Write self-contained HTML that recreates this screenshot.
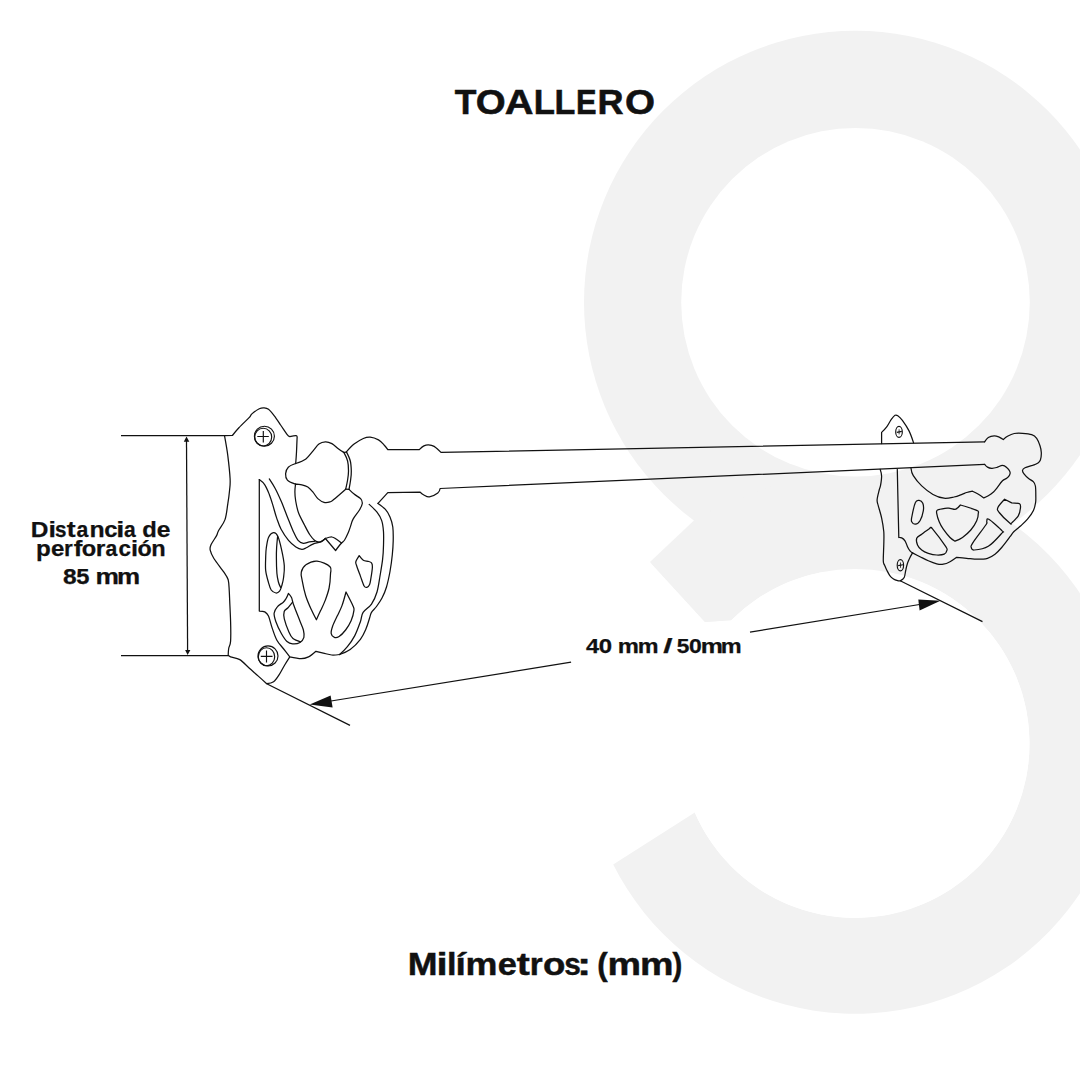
<!DOCTYPE html>
<html><head><meta charset="utf-8"><style>
html,body{margin:0;padding:0;background:#fff;}
body{width:1080px;height:1080px;position:relative;overflow:hidden;font-family:"Liberation Sans",sans-serif;}
svg{position:absolute;left:0;top:0;}
.t{position:absolute;white-space:nowrap;font-weight:bold;color:#111;line-height:1;}
</style></head><body>
<svg width="1080" height="1080" viewBox="0 0 1080 1080">

<g fill="#f2f2f2">
  <circle cx="855.5" cy="302.3" r="271.5"/>
  <path d="M652.5,564.2 A270.4,270.4 0 1 1 613.2,864.4 L694.8,812.6 A174.5,174.5 0 1 0 731.3,620.3 L705,622 L650,562 Z"/>
  <polygon points="694.5,520 650,562 705,622 731,620 740,560 730,500"/>
</g>
<g fill="#ffffff">
  <circle cx="855.5" cy="302.3" r="174.3"/>
  <circle cx="855.0" cy="743.4" r="174.5"/>
</g>

<g fill="none" stroke="#111" stroke-width="1.25" stroke-linejoin="round" stroke-linecap="round">
<path d="M224.5,435.6 L232.4,435.5 C232.4,435.5 236.1,430.8 238.9,427.8 C241.7,424.8 246.9,419.9 249.1,417.6 C251.3,415.3 250.2,415.4 251.9,413.9 C253.6,412.4 257.3,409.8 259.3,408.8 C261.3,407.8 262.4,407.8 263.9,407.9 C265.4,408.0 266.8,408.0 268.5,409.3 C270.2,410.6 272.1,413.1 274.1,415.7 C276.1,418.3 278.5,421.9 280.6,425.0 C282.8,428.1 285.5,432.4 287.0,434.3 C288.5,436.2 289.8,436.6 289.8,436.6 C289.8,436.6 295.0,435.4 296.2,435.6 C297.4,435.8 297.1,437.8 297.1,437.8 C297.1,437.8 296.7,447.7 296.5,452.0 C296.3,456.3 295.7,463.5 295.7,463.5"/>
<path d="M224.5,435.6 C224.5,435.6 226.9,448.4 227.8,455.6 C228.7,462.8 229.8,473.0 230.1,478.7 C230.4,484.4 230.0,485.8 229.6,490.0 C229.2,494.2 228.6,499.0 227.8,503.9 C227.0,508.8 226.6,515.1 225.0,519.6 C223.4,524.1 219.9,528.1 218.5,530.7 C217.1,533.3 217.9,533.1 216.7,535.4 C215.5,537.7 212.2,542.1 211.1,544.6 C210.0,547.1 209.7,547.9 210.2,550.2 C210.7,552.5 211.6,554.8 213.9,558.5 C216.2,562.2 221.7,568.9 224.1,572.4 C226.5,575.9 227.3,576.9 228.2,579.8 C229.0,582.7 229.0,586.9 229.2,590.0 C229.4,593.1 229.4,593.2 229.6,598.5 C229.8,603.8 230.4,614.6 230.6,621.7 C230.8,628.8 230.9,636.6 230.6,641.1 C230.3,645.6 229.1,646.2 228.7,648.5 C228.3,650.8 228.2,655.0 228.2,655.0 C228.2,655.0 228.7,656.1 230.6,656.9 C232.5,657.7 236.7,657.8 239.8,659.6 C242.9,661.5 246.0,665.2 249.1,668.0 C252.2,670.8 255.4,673.5 258.3,676.1 C261.2,678.7 266.7,683.7 266.7,683.7 C266.7,683.7 271.5,683.2 273.6,681.7 C275.7,680.2 277.4,677.5 279.2,674.7 C281.0,671.9 282.9,668.0 284.7,665.0 C286.5,662.0 289.8,656.9 289.8,656.9"/>
<path d="M259.3,479.6 L259.3,611.0 C259.3,611.0 263.3,611.0 264.8,611.9 C266.3,612.8 267.3,613.4 268.5,616.1 C269.7,618.8 270.8,624.1 272.2,628.1 C273.6,632.1 275.0,636.8 276.9,640.2 C278.8,643.6 281.1,645.7 283.3,648.5 C285.5,651.3 289.8,656.9 289.8,656.9 C289.8,656.9 298.0,658.7 301.1,658.7 C304.2,658.7 306.0,658.1 308.5,656.9 C311.0,655.7 315.9,651.3 315.9,651.3 C315.9,651.3 320.7,652.5 323.3,653.1 C325.9,653.7 329.0,654.8 331.7,655.0 C334.4,655.2 339.6,654.5 339.6,654.5"/>
<path d="M259.3,479.6 C259.3,479.6 263.1,482.3 264.8,484.8 C266.5,487.3 267.9,490.9 269.3,494.4 C270.7,497.9 271.8,501.7 273.0,505.6 C274.2,509.6 275.3,514.2 276.7,518.1 C278.1,522.0 279.1,525.6 281.1,529.3 C283.1,533.0 286.0,537.4 288.5,540.4 C291.0,543.4 293.7,545.5 295.9,547.0 C298.1,548.5 300.2,549.2 301.9,549.3 C303.6,549.4 304.4,548.7 306.3,547.8 C308.2,546.9 310.6,545.1 313.0,544.1 C315.4,543.1 318.3,542.8 320.4,541.9 C322.5,541.0 325.4,538.5 325.4,538.5"/>
<path d="M269.3,478.9 C269.3,478.9 273.2,484.8 275.2,488.5 C277.2,492.2 279.1,496.5 281.1,501.1 C283.1,505.7 285.0,511.0 287.0,515.9 C289.0,520.8 291.1,526.6 293.0,530.7 C294.9,534.8 296.4,538.3 298.1,540.4 C299.8,542.5 301.4,543.0 303.3,543.3 C305.2,543.5 307.4,542.2 309.3,541.9 C311.2,541.6 314.5,541.3 314.5,541.3"/>
<path d="M295.5,484.0 C295.5,484.0 294.9,489.2 294.9,492.0 C294.9,494.8 295.1,497.5 295.7,501.0 C296.3,504.5 297.1,509.0 298.6,513.0 C300.1,517.0 302.6,521.3 304.5,525.0 C306.4,528.7 308.3,532.5 310.0,535.0 C311.7,537.5 313.2,539.1 314.5,540.3 C315.8,541.4 316.8,541.7 318.0,541.9 C319.2,542.1 320.3,542.2 321.5,541.6 C322.7,541.0 325.4,538.5 325.4,538.5"/>
<path d="M325.4,538.5 C325.4,538.5 330.0,536.9 331.9,537.0 C333.8,537.1 334.9,538.3 336.5,539.3 C338.1,540.3 341.5,543.0 341.5,543.0"/>
<path d="M325.4,538.5 L335.6,550.5 C335.6,550.5 339.6,545.2 341.1,543.5 C342.6,541.8 343.4,541.8 344.6,540.0 C345.8,538.2 347.3,534.9 348.3,532.6 C349.3,530.3 349.8,528.4 350.6,526.1 C351.4,523.9 351.6,521.8 353.1,519.1 C354.6,516.4 358.1,512.4 359.6,509.8 C361.1,507.2 362.1,505.4 362.3,503.5 C362.5,501.6 362.0,500.3 360.6,498.7 C359.2,497.1 356.0,495.7 354.1,494.1 C352.2,492.6 349.0,489.4 349.0,489.4"/>
<path d="M295.7,463.5 C295.7,463.5 303.0,461.0 305.9,458.9 C308.8,456.8 311.1,453.1 313.3,450.6 C315.5,448.1 316.9,445.6 318.9,444.1 C320.9,442.6 323.2,441.9 325.4,441.8 C327.6,441.7 329.8,442.5 331.9,443.6 C334.0,444.8 336.3,447.2 338.3,448.7 C340.3,450.2 343.9,452.4 343.9,452.4"/>
<path d="M295.7,463.5 C295.7,463.5 290.0,465.5 288.3,467.2 C286.6,468.9 285.8,471.5 285.6,473.7 C285.5,475.9 285.9,478.5 287.4,480.2 C288.9,481.9 292.4,483.1 294.8,483.9 C297.2,484.7 299.7,484.3 301.9,484.8 C304.1,485.3 305.9,485.8 307.8,487.0 C309.7,488.2 311.3,490.2 313.0,492.2 C314.7,494.2 316.2,497.2 318.1,498.9 C320.0,500.6 322.1,501.9 324.1,502.4 C326.1,502.9 328.4,502.4 330.0,501.9 C331.6,501.4 331.1,501.7 333.7,499.6 C336.3,497.5 345.7,489.2 345.7,489.2"/>
<path d="M343.9,452.4 C343.9,452.4 346.8,457.9 347.6,461.0 C348.4,464.1 348.5,467.7 348.5,470.9 C348.5,474.1 348.1,476.9 347.6,480.0 C347.1,483.1 345.7,489.2 345.7,489.2"/>
<path d="M346.4,451.9 C346.4,451.9 349.5,457.8 350.3,461.0 C351.1,464.2 351.2,467.7 351.3,470.9 C351.4,474.1 351.0,476.9 350.6,480.0 C350.2,483.1 349.0,489.4 349.0,489.4"/>
<path d="M343.4,452.5 L346.6,452.2"/>
<path d="M345.6,489.2 L349.0,489.4"/>
<path d="M346.4,451.9 C346.4,451.9 351.3,446.3 354.1,444.1 C356.9,441.9 360.6,439.7 363.3,438.5 C366.0,437.3 367.7,436.9 370.2,437.1 C372.7,437.3 376.2,438.6 378.5,439.9 C380.8,441.2 382.6,443.4 384.1,445.0 C385.7,446.6 387.8,449.6 387.8,449.6 L419.3,449.6 C419.3,449.6 422.4,446.7 423.9,445.9 C425.4,445.1 426.8,444.7 428.5,444.8 C430.2,444.9 432.0,445.1 434.1,446.4 C436.2,447.7 441.0,452.4 441.0,452.4 L984.6,441.8"/>
<path d="M378.0,503.4 L387.8,492.7 L420.2,492.2 C420.2,492.2 422.4,494.2 423.9,495.0 C425.4,495.8 427.1,497.2 429.4,496.9 C431.7,496.6 436.0,494.5 437.8,493.1 C439.6,491.7 440.1,488.5 440.1,488.5 L984.6,464.4"/>
<path d="M378.0,503.4 C378.0,503.4 383.4,507.1 385.4,509.4 C387.4,511.6 388.8,514.0 390.0,516.9 C391.2,519.8 392.3,523.0 392.8,527.0 C393.3,531.0 393.3,536.3 393.2,540.9 C393.1,545.5 392.8,549.7 392.3,554.8 C391.8,559.9 391.0,566.1 390.0,571.5 C389.0,576.9 387.8,582.6 386.5,587.0 C385.2,591.4 383.7,594.8 382.0,598.0 C380.3,601.2 378.2,604.1 376.5,606.5 C374.8,608.9 372.6,610.5 371.5,612.4 C370.4,614.3 370.5,615.2 369.6,618.0 C368.7,620.8 367.4,625.6 365.9,629.1 C364.4,632.6 363.0,635.9 360.4,639.3 C357.8,642.7 353.7,646.9 350.2,649.4 C346.7,651.9 339.6,654.5 339.6,654.5"/>
<path d="M369.2,504.4 C369.2,504.4 374.9,509.5 377.0,512.2 C379.1,514.9 380.6,517.4 381.7,520.6 C382.8,523.9 383.2,527.5 383.5,531.7 C383.8,535.9 383.6,541.0 383.5,545.6 C383.4,550.2 383.2,554.3 382.6,559.4 C382.0,564.5 380.9,570.6 380.0,576.0 C379.1,581.4 378.4,587.3 377.0,592.0 C375.6,596.7 373.8,600.7 371.5,604.1 C369.2,607.5 365.0,609.5 363.1,612.4 C361.2,615.3 361.8,617.8 360.4,621.7 C359.0,625.6 357.0,631.4 354.8,635.6 C352.6,639.8 349.9,643.6 347.4,646.7 C344.9,649.9 339.6,654.5 339.6,654.5"/>
<path d="M277.6,536.5 C277.6,536.5 276.8,544.4 276.6,548.0 C276.4,551.6 276.3,553.8 276.4,558.0 C276.4,562.2 276.6,569.3 276.9,573.3 C277.2,577.3 277.8,579.6 278.4,582.0 C279.0,584.4 280.6,587.4 280.6,587.4"/>
<path d="M292.6,602.2 C292.6,602.2 289.4,606.2 288.0,607.8 C286.6,609.3 284.8,609.6 284.2,611.5 C283.6,613.4 283.5,615.5 284.3,618.9 C285.1,622.3 287.4,628.6 288.9,631.9 C290.3,635.2 291.1,636.9 293.0,638.5 C294.9,640.1 300.5,641.8 300.5,641.8"/>
<path d="M881.6,443.5 L881.6,432.4 C881.6,432.4 885.1,429.1 886.7,426.9 C888.3,424.7 889.9,421.3 891.3,419.4 C892.7,417.5 893.9,415.9 895.0,415.3 C896.1,414.7 896.6,414.9 897.8,415.7 C899.0,416.5 900.5,417.9 902.4,420.4 C904.2,422.9 907.0,426.9 908.9,430.6 C910.8,434.3 913.5,442.6 913.5,442.6"/>
<path d="M984.6,441.8 C984.6,441.8 986.7,438.5 988.3,437.5 C989.9,436.5 992.4,435.9 994.2,435.8 C996.0,435.7 997.7,436.5 999.2,437.1 C1000.7,437.7 1003.3,439.6 1003.3,439.6 C1003.3,439.6 1005.7,437.3 1007.5,436.3 C1009.3,435.3 1011.7,434.0 1014.2,433.5 C1016.7,433.0 1019.6,433.1 1022.5,433.3 C1025.4,433.5 1029.3,433.8 1031.7,434.6 C1034.1,435.4 1035.3,436.4 1036.7,438.3 C1038.1,440.2 1039.2,443.4 1040.0,445.8 C1040.8,448.2 1041.2,450.1 1041.3,452.5 C1041.4,454.9 1041.0,458.2 1040.4,460.0 C1039.8,461.8 1038.8,462.4 1037.5,463.3 C1036.2,464.2 1034.6,464.6 1032.5,465.4 C1030.4,466.1 1026.7,466.9 1025.0,467.8 C1023.3,468.7 1022.6,469.4 1022.5,470.5 C1022.4,471.6 1023.2,472.9 1024.2,474.2 C1025.2,475.5 1026.8,477.1 1028.3,478.3 C1029.8,479.6 1032.1,480.4 1033.3,481.7 C1034.5,483.0 1035.0,483.8 1035.4,486.0 C1035.8,488.2 1035.8,492.2 1035.8,495.0 C1035.8,497.8 1036.0,499.9 1035.6,502.5 C1035.2,505.1 1034.6,508.0 1033.3,510.8 C1032.0,513.6 1029.6,516.7 1027.5,519.2 C1025.4,521.7 1023.0,523.8 1020.8,525.8 C1018.5,527.8 1015.8,529.7 1014.0,531.5 C1012.2,533.3 1012.0,534.0 1010.0,536.7 C1008.0,539.4 1004.2,544.6 1001.7,547.5 C999.2,550.4 997.4,552.4 995.0,554.2 C992.6,556.0 990.4,557.5 987.5,558.3 C984.6,559.1 981.0,559.2 977.5,559.2 C974.0,559.2 970.2,558.6 966.7,558.3 C963.2,558.0 956.7,557.3 956.7,557.3 C956.7,557.3 952.2,560.6 950.0,561.7 C947.8,562.9 945.5,563.9 943.3,564.2 C941.1,564.6 939.2,564.4 936.7,563.8 C934.2,563.2 931.1,562.0 928.3,560.8 C925.5,559.6 922.6,558.0 920.0,556.7 C917.4,555.4 912.5,552.9 912.5,552.9"/>
<path d="M984.6,464.4 C984.6,464.4 986.3,466.5 987.5,467.1 C988.7,467.8 990.2,468.2 991.7,468.3 C993.2,468.4 994.9,468.0 996.7,467.5 C998.5,467.0 1000.8,465.4 1002.5,465.4 C1004.2,465.4 1005.5,466.4 1006.7,467.5 C1008.0,468.6 1009.5,470.4 1010.0,471.7 C1010.5,472.9 1010.1,473.9 1009.6,475.0 C1009.1,476.1 1007.9,477.3 1006.7,478.3 C1005.5,479.3 1004.2,479.1 1002.5,480.8 C1000.8,482.5 998.2,486.4 996.7,488.3 C995.2,490.2 994.9,490.8 993.5,492.0 C992.1,493.2 989.9,494.8 988.3,495.8 C986.7,496.8 983.8,497.9 983.8,497.9 C983.8,497.9 979.9,495.1 978.0,494.0 C976.1,492.9 972.5,491.2 972.5,491.2 C972.5,491.2 968.5,492.0 966.7,492.5 C965.0,493.0 964.1,493.6 962.0,494.3 C959.9,495.1 957.0,496.4 954.0,497.0 C951.0,497.6 947.5,498.6 944.0,498.2 C940.5,497.8 936.7,496.6 933.0,494.5 C929.3,492.4 925.0,489.0 921.7,485.9 C918.4,482.8 915.1,478.6 913.3,475.7 C911.5,472.8 911.0,468.2 911.0,468.2"/>
<path d="M880.2,469.4 C880.2,469.4 881.5,473.3 881.6,475.9 C881.7,478.5 881.0,482.8 880.6,485.2 C880.2,487.6 879.8,487.5 879.2,490.0 C878.6,492.5 877.2,497.4 877.1,500.0 C877.0,502.6 877.5,502.8 878.3,505.8 C879.1,508.9 880.8,514.0 881.7,518.3 C882.6,522.6 883.4,527.4 883.8,531.7 C884.1,536.0 883.9,539.3 883.8,544.2 C883.7,549.1 883.2,557.5 883.3,561.0 C883.4,564.5 884.0,563.7 884.6,565.2 C885.2,566.7 885.8,568.3 886.7,570.0 C887.6,571.7 888.7,574.1 889.8,575.6 C890.9,577.1 892.2,578.1 893.5,579.0 C894.8,579.9 896.5,580.4 897.6,580.7 C898.7,581.0 900.2,580.9 900.2,580.9 C900.2,580.9 903.3,579.3 904.2,577.5 C905.1,575.7 905.2,572.4 905.8,570.0 C906.3,567.6 906.9,565.2 907.5,563.3 C908.1,561.4 908.7,560.2 909.5,558.5 C910.3,556.8 912.5,552.9 912.5,552.9"/>
<path d="M897.3,469.4 C897.3,469.4 898.0,503.6 898.3,515.0 C898.5,526.4 898.8,537.5 898.8,537.5 C898.8,537.5 900.7,537.4 901.7,537.9 C902.7,538.4 904.0,539.3 905.0,540.8 C906.0,542.3 906.7,545.0 907.5,546.7 C908.3,548.4 909.2,549.8 910.0,550.8 C910.8,551.8 912.5,552.9 912.5,552.9"/>
<path d="M273.6,532.6 C272.1,532.8 269.7,534.9 268.5,537.5 C267.3,540.1 266.8,544.8 266.3,548.0 C265.8,551.2 265.8,553.2 265.7,557.0 C265.6,560.8 265.2,566.3 265.7,570.6 C266.2,574.9 267.6,579.4 268.5,582.6 C269.4,585.8 270.0,588.3 271.2,590.0 C272.4,591.7 274.5,592.8 275.9,593.0 C277.3,593.2 278.6,592.3 279.6,591.1 C280.6,589.9 281.2,587.8 281.8,585.6 C282.4,583.4 283.1,581.3 283.5,578.0 C283.9,574.7 284.6,570.7 284.3,565.9 C284.0,561.1 282.6,554.2 281.5,549.3 C280.4,544.4 279.1,539.1 277.8,536.3 C276.5,533.5 275.2,532.4 273.6,532.6 Z"/>
<path d="M301.3,572.2 C301.9,569.6 303.3,566.6 305.9,564.8 C308.5,562.9 313.0,560.8 317.0,561.1 C321.0,561.4 327.8,564.5 330.0,566.7 C332.2,568.9 330.6,570.6 330.5,574.1 C330.4,577.6 330.0,583.6 329.1,588.0 C328.2,592.4 326.6,596.6 325.2,600.4 C323.8,604.2 322.1,607.4 320.6,610.6 C319.1,613.8 316.4,619.8 316.4,619.8 C316.4,619.8 313.1,613.6 311.3,609.6 C309.5,605.6 307.2,600.5 305.7,595.7 C304.2,590.9 302.9,584.5 302.2,580.6 C301.5,576.7 300.7,574.8 301.3,572.2 Z"/>
<path d="M359.2,555.6 C359.2,555.6 356.4,559.9 355.9,561.5 C355.4,563.1 355.6,562.6 356.4,565.0 C357.1,567.4 359.1,572.6 360.4,576.1 C361.7,579.6 363.0,584.1 364.1,586.0 C365.2,587.9 366.0,587.6 366.9,587.4 C367.8,587.2 369.0,586.0 369.6,584.6 C370.2,583.2 370.3,581.9 370.8,578.9 C371.3,575.9 372.3,569.6 372.4,566.9 C372.5,564.2 372.2,563.7 371.5,562.8 C370.8,561.9 369.4,561.7 368.0,561.3 C366.6,560.9 364.8,561.2 363.3,560.2 C361.8,559.2 359.2,555.6 359.2,555.6 Z"/>
<path d="M288.4,593.4 C288.4,593.4 287.0,597.0 286.1,598.5 C285.2,600.0 284.8,600.8 283.3,602.2 C281.8,603.6 278.8,604.9 277.3,606.8 C275.8,608.6 274.3,610.8 274.1,613.3 C273.9,615.8 274.7,618.3 275.9,621.7 C277.1,625.1 279.6,630.4 281.5,633.7 C283.4,637.0 285.1,639.8 287.0,641.5 C288.9,643.2 290.4,643.7 292.6,643.9 C294.8,644.1 298.1,643.6 300.0,642.5 C301.9,641.4 303.3,639.5 303.9,637.4 C304.5,635.3 304.0,632.6 303.4,630.0 C302.8,627.4 301.8,625.9 300.2,621.7 C298.6,617.5 295.1,609.0 293.7,605.0 C292.2,601.0 292.4,599.5 291.5,597.6 C290.6,595.7 288.4,593.4 288.4,593.4 Z"/>
<path d="M346.0,592.0 C346.0,592.0 343.4,601.9 341.9,605.9 C340.4,609.9 338.8,612.7 337.2,616.1 C335.6,619.5 333.6,623.4 332.6,626.3 C331.6,629.2 330.9,631.9 331.2,633.7 C331.5,635.6 333.1,636.9 334.4,637.4 C335.7,637.9 337.2,637.7 339.1,636.5 C341.0,635.3 343.6,632.6 345.6,630.0 C347.6,627.4 349.7,623.9 351.1,620.7 C352.5,617.5 353.6,613.1 353.9,610.6 C354.2,608.1 354.3,609.0 353.0,605.9 C351.7,602.8 346.0,592.0 346.0,592.0 Z"/>
<path d="M919.2,500.4 C918.0,500.3 916.6,499.6 915.4,502.5 C914.1,505.4 912.3,514.3 911.7,517.5 C911.1,520.7 911.1,520.6 911.7,521.7 C912.3,522.8 914.0,524.4 915.4,524.2 C916.8,524.1 918.7,523.0 920.0,520.8 C921.3,518.6 922.8,513.7 923.3,510.8 C923.8,507.9 923.5,505.0 922.8,503.3 C922.1,501.6 920.4,500.5 919.2,500.4 Z"/>
<path d="M916.7,538.3 C917.4,536.5 919.5,535.9 921.7,534.2 C923.9,532.5 930.0,528.3 930.0,528.3 C930.0,528.3 929.9,525.7 932.5,528.8 C935.1,531.9 943.4,543.0 945.8,546.7 C948.2,550.4 947.0,549.5 946.7,550.8 C946.4,552.0 945.9,553.5 944.2,554.2 C942.5,554.9 939.4,555.1 936.7,555.0 C934.1,554.9 930.8,554.1 928.3,553.3 C925.8,552.5 923.5,551.4 921.7,550.0 C919.9,548.6 918.3,547.0 917.5,545.0 C916.7,543.0 916.0,540.1 916.7,538.3 Z"/>
<path d="M937.5,510.0 C938.9,509.2 942.9,508.6 945.0,508.3 C947.1,508.0 948.2,508.2 950.0,508.3 C951.8,508.4 954.1,509.8 955.8,509.2 C957.5,508.6 960.4,505.0 960.4,505.0 C960.4,505.0 973.7,509.0 976.7,510.4 C979.7,511.8 978.3,511.6 978.3,513.3 C978.3,515.0 978.0,518.0 976.7,520.8 C975.5,523.6 973.2,527.2 970.8,530.0 C968.4,532.8 965.1,535.6 962.5,537.5 C959.9,539.4 955.0,541.2 955.0,541.2 C955.0,541.2 952.0,539.5 950.0,537.5 C948.0,535.5 945.1,531.8 943.3,529.2 C941.5,526.6 940.3,524.4 939.2,521.7 C938.1,519.1 937.0,515.2 936.7,513.3 C936.4,511.3 936.1,510.8 937.5,510.0 Z"/>
<path d="M988.8,519.2 C986.2,517.7 987.2,520.7 986.7,521.7 C986.2,522.7 988.2,521.4 985.8,525.0 C983.4,528.6 974.9,539.5 972.5,543.3 C970.1,547.0 971.0,546.4 971.3,547.5 C971.6,548.6 971.4,550.2 974.2,550.0 C977.0,549.8 983.7,549.1 988.3,546.3 C992.9,543.5 999.4,535.9 1001.7,533.3 C1004.0,530.7 1004.2,533.1 1002.1,530.8 C1000.0,528.4 991.4,520.7 988.8,519.2 Z"/>
<path d="M1004.6,499.2 C1004.6,499.2 998.8,505.3 997.9,507.5 C997.0,509.7 997.2,509.9 999.2,512.5 C1001.2,515.1 1007.9,521.6 1010.0,523.3 C1012.1,525.0 1010.3,524.1 1011.7,522.9 C1013.1,521.6 1016.8,518.2 1018.3,515.8 C1019.8,513.4 1020.2,510.3 1020.4,508.3 C1020.6,506.3 1021.0,504.7 1019.6,503.8 C1018.2,502.9 1011.7,502.9 1011.7,502.9 L1004.6,499.2 Z"/>
</g>

<g fill="none" stroke="#111" stroke-width="1.15">
  <circle cx="264.4" cy="436.2" r="10"/>
  <ellipse cx="263.2" cy="437.1" rx="8.5" ry="8.9"/>
  <path d="M257.3,436.5 H268.8 M263.3,431 V442.5"/>
  <circle cx="268" cy="655.9" r="10"/>
  <ellipse cx="266.5" cy="656.7" rx="8.2" ry="9"/>
  <path d="M260.8,656.4 H272.5 M266.5,650.4 V662.5"/>
  <ellipse cx="899" cy="431.9" rx="3.3" ry="5.5"/>
  <path d="M896.8,432.4 L901.8,431.4"/>
  <path d="M899.1,429.3 V434.4" stroke-width="0.8"/>
  <ellipse cx="900.4" cy="565.2" rx="3.2" ry="5.6"/>
  <path d="M898.1,565.6 L903,564.7"/>
  <path d="M900.5,562.5 V567.8" stroke-width="0.8"/>
</g>


<g fill="none" stroke="#111" stroke-width="1.25">
  <path d="M121,435.5 H224.5"/>
  <path d="M121,655.5 H228.2"/>
  <path d="M186.5,441 L187.6,651"/>
  <path d="M266.7,683.7 L350,725.4"/>
  <path d="M900.2,580.8 L982.5,621.6"/>
  <path d="M331,701 L571.1,662.2"/>
  <path d="M750,632.2 L919.5,604.5"/>
</g>
<g fill="#111">
  <polygon points="186.5,436.6 183.8,441.8 189.3,441.8"/>
  <polygon points="187.6,655 185.1,650 190.4,650"/>
  <polygon points="309.7,704.6 330.6,695.6 332.6,707.4"/>
  <polygon points="940.4,600.8 918.3,599.5 919.6,610.6"/>
</g>

<g style="font-family:&quot;Liberation Sans&quot;,sans-serif;font-weight:bold" fill="#111"><text x="454.70" y="113.80" font-size="34.70" textLength="21.68" lengthAdjust="spacingAndGlyphs" stroke="#111" stroke-width="0.55">T</text>
<text x="475.72" y="113.80" font-size="34.70" textLength="29.89" lengthAdjust="spacingAndGlyphs" stroke="#111" stroke-width="0.55">O</text>
<text x="504.81" y="113.80" font-size="34.70" textLength="28.74" lengthAdjust="spacingAndGlyphs" stroke="#111" stroke-width="0.55">A</text>
<text x="533.78" y="113.80" font-size="34.70" textLength="21.19" lengthAdjust="spacingAndGlyphs" stroke="#111" stroke-width="0.55">L</text>
<text x="554.62" y="113.80" font-size="34.70" textLength="20.83" lengthAdjust="spacingAndGlyphs" stroke="#111" stroke-width="0.55">L</text>
<text x="575.94" y="113.80" font-size="34.70" textLength="20.57" lengthAdjust="spacingAndGlyphs" stroke="#111" stroke-width="0.55">E</text>
<text x="597.49" y="113.80" font-size="34.70" textLength="26.05" lengthAdjust="spacingAndGlyphs" stroke="#111" stroke-width="0.55">R</text>
<text x="625.02" y="113.80" font-size="34.70" textLength="30.00" lengthAdjust="spacingAndGlyphs" stroke="#111" stroke-width="0.55">O</text><text x="407.71" y="974.80" font-size="31.70" textLength="29.78" lengthAdjust="spacingAndGlyphs" stroke="#111" stroke-width="0.45">M</text>
<text x="436.50" y="974.80" font-size="31.70" textLength="11.14" lengthAdjust="spacingAndGlyphs" stroke="#111" stroke-width="0.45">i</text>
<text x="447.01" y="974.80" font-size="31.70" textLength="9.52" lengthAdjust="spacingAndGlyphs" stroke="#111" stroke-width="0.45">l</text>
<text x="455.60" y="974.80" font-size="31.70" textLength="10.33" lengthAdjust="spacingAndGlyphs" stroke="#111" stroke-width="0.45">í</text>
<text x="465.64" y="974.80" font-size="31.70" textLength="31.89" lengthAdjust="spacingAndGlyphs" stroke="#111" stroke-width="0.45">m</text>
<text x="497.86" y="974.80" font-size="31.70" textLength="19.12" lengthAdjust="spacingAndGlyphs" stroke="#111" stroke-width="0.45">e</text>
<text x="516.72" y="974.80" font-size="31.70" textLength="13.06" lengthAdjust="spacingAndGlyphs" stroke="#111" stroke-width="0.45">t</text>
<text x="529.82" y="974.80" font-size="31.70" textLength="12.88" lengthAdjust="spacingAndGlyphs" stroke="#111" stroke-width="0.45">r</text>
<text x="543.07" y="974.80" font-size="31.70" textLength="22.36" lengthAdjust="spacingAndGlyphs" stroke="#111" stroke-width="0.45">o</text>
<text x="564.35" y="974.80" font-size="31.70" textLength="16.57" lengthAdjust="spacingAndGlyphs" stroke="#111" stroke-width="0.45">s</text>
<text x="577.00" y="974.80" font-size="31.70" textLength="14.21" lengthAdjust="spacingAndGlyphs" stroke="#111" stroke-width="0.45">:</text>
<text x="597.35" y="974.80" font-size="31.70" textLength="10.38" lengthAdjust="spacingAndGlyphs" stroke="#111" stroke-width="0.45">(</text>
<text x="607.51" y="974.80" font-size="31.70" textLength="33.52" lengthAdjust="spacingAndGlyphs" stroke="#111" stroke-width="0.45">m</text>
<text x="639.91" y="974.80" font-size="31.70" textLength="33.52" lengthAdjust="spacingAndGlyphs" stroke="#111" stroke-width="0.45">m</text>
<text x="672.47" y="974.80" font-size="31.70" textLength="9.79" lengthAdjust="spacingAndGlyphs" stroke="#111" stroke-width="0.45">)</text><text x="30.86" y="536.70" font-size="21.40" textLength="17.66" lengthAdjust="spacingAndGlyphs" stroke="#111" stroke-width="0.25">D</text>
<text x="48.42" y="536.70" font-size="21.40" textLength="7.49" lengthAdjust="spacingAndGlyphs" stroke="#111" stroke-width="0.25">i</text>
<text x="55.07" y="536.70" font-size="21.40" textLength="11.47" lengthAdjust="spacingAndGlyphs" stroke="#111" stroke-width="0.25">s</text>
<text x="66.78" y="536.70" font-size="21.40" textLength="8.85" lengthAdjust="spacingAndGlyphs" stroke="#111" stroke-width="0.25">t</text>
<text x="76.38" y="536.70" font-size="21.40" textLength="11.79" lengthAdjust="spacingAndGlyphs" stroke="#111" stroke-width="0.25">a</text>
<text x="89.46" y="536.70" font-size="21.40" textLength="15.18" lengthAdjust="spacingAndGlyphs" stroke="#111" stroke-width="0.25">n</text>
<text x="104.17" y="536.70" font-size="21.40" textLength="13.23" lengthAdjust="spacingAndGlyphs" stroke="#111" stroke-width="0.25">c</text>
<text x="116.16" y="536.70" font-size="21.40" textLength="8.10" lengthAdjust="spacingAndGlyphs" stroke="#111" stroke-width="0.25">i</text>
<text x="123.98" y="536.70" font-size="21.40" textLength="11.68" lengthAdjust="spacingAndGlyphs" stroke="#111" stroke-width="0.25">a</text>
<text x="142.32" y="536.70" font-size="21.40" textLength="14.55" lengthAdjust="spacingAndGlyphs" stroke="#111" stroke-width="0.25">d</text>
<text x="156.74" y="536.70" font-size="21.40" textLength="13.70" lengthAdjust="spacingAndGlyphs" stroke="#111" stroke-width="0.25">e</text><text x="35.90" y="555.60" font-size="21.40" textLength="14.79" lengthAdjust="spacingAndGlyphs" stroke="#111" stroke-width="0.25">p</text>
<text x="51.06" y="555.60" font-size="21.40" textLength="13.36" lengthAdjust="spacingAndGlyphs" stroke="#111" stroke-width="0.25">e</text>
<text x="64.02" y="555.60" font-size="21.40" textLength="8.72" lengthAdjust="spacingAndGlyphs" stroke="#111" stroke-width="0.25">r</text>
<text x="73.86" y="555.60" font-size="21.40" textLength="8.59" lengthAdjust="spacingAndGlyphs" stroke="#111" stroke-width="0.25">f</text>
<text x="81.88" y="555.60" font-size="21.40" textLength="14.45" lengthAdjust="spacingAndGlyphs" stroke="#111" stroke-width="0.25">o</text>
<text x="95.77" y="555.60" font-size="21.40" textLength="9.60" lengthAdjust="spacingAndGlyphs" stroke="#111" stroke-width="0.25">r</text>
<text x="105.38" y="555.60" font-size="21.40" textLength="11.79" lengthAdjust="spacingAndGlyphs" stroke="#111" stroke-width="0.25">a</text>
<text x="118.53" y="555.60" font-size="21.40" textLength="12.43" lengthAdjust="spacingAndGlyphs" stroke="#111" stroke-width="0.25">c</text>
<text x="130.92" y="555.60" font-size="21.40" textLength="7.09" lengthAdjust="spacingAndGlyphs" stroke="#111" stroke-width="0.25">i</text>
<text x="137.59" y="555.60" font-size="21.40" textLength="14.22" lengthAdjust="spacingAndGlyphs" stroke="#111" stroke-width="0.25">ó</text>
<text x="151.34" y="555.60" font-size="21.40" textLength="14.42" lengthAdjust="spacingAndGlyphs" stroke="#111" stroke-width="0.25">n</text><text x="63.02" y="583.60" font-size="21.20" textLength="13.63" lengthAdjust="spacingAndGlyphs" stroke="#111" stroke-width="0.25">8</text>
<text x="76.37" y="583.60" font-size="21.20" textLength="13.19" lengthAdjust="spacingAndGlyphs" stroke="#111" stroke-width="0.25">5</text>
<text x="95.46" y="583.60" font-size="21.20" textLength="23.48" lengthAdjust="spacingAndGlyphs" stroke="#111" stroke-width="0.25">m</text>
<text x="117.09" y="583.60" font-size="21.20" textLength="23.13" lengthAdjust="spacingAndGlyphs" stroke="#111" stroke-width="0.25">m</text><text x="585.94" y="652.70" font-size="20.30" textLength="13.08" lengthAdjust="spacingAndGlyphs" stroke="#111" stroke-width="0.25">4</text>
<text x="598.75" y="652.70" font-size="20.30" textLength="13.33" lengthAdjust="spacingAndGlyphs" stroke="#111" stroke-width="0.25">0</text>
<text x="617.73" y="652.70" font-size="20.30" textLength="21.14" lengthAdjust="spacingAndGlyphs" stroke="#111" stroke-width="0.25">m</text>
<text x="637.76" y="652.70" font-size="20.30" textLength="20.79" lengthAdjust="spacingAndGlyphs" stroke="#111" stroke-width="0.25">m</text>
<text x="663.17" y="652.70" font-size="20.30" textLength="9.25" lengthAdjust="spacingAndGlyphs" stroke="#111" stroke-width="0.25">/</text>
<text x="676.80" y="652.70" font-size="20.30" textLength="12.63" lengthAdjust="spacingAndGlyphs" stroke="#111" stroke-width="0.25">5</text>
<text x="688.99" y="652.70" font-size="20.30" textLength="12.75" lengthAdjust="spacingAndGlyphs" stroke="#111" stroke-width="0.25">0</text>
<text x="700.75" y="652.70" font-size="20.30" textLength="22.19" lengthAdjust="spacingAndGlyphs" stroke="#111" stroke-width="0.25">m</text>
<text x="720.65" y="652.70" font-size="20.30" textLength="20.91" lengthAdjust="spacingAndGlyphs" stroke="#111" stroke-width="0.25">m</text></g>
</svg>
</body></html>
